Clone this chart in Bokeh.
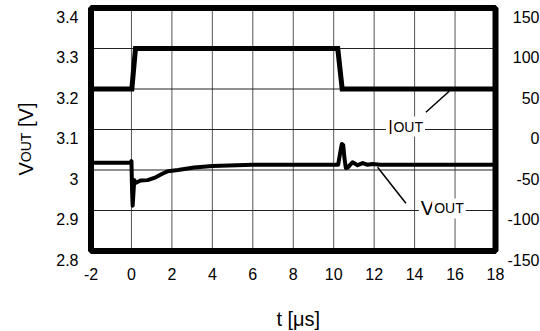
import math
from bokeh.plotting import figure
from bokeh.models import Range1d, Label, BoxAnnotation
from bokeh.embed import file_html
from bokeh.resources import INLINE

# ---- data ----
x_ticks = [-2, 0, 2, 4, 6, 8, 10, 12, 14, 16, 18]
x_tick_labels = ["-2", "0", "2", "4", "6", "8", "10", "12", "14", "16", "18"]
v_ticks = [2.8, 2.9, 3.0, 3.1, 3.2, 3.3, 3.4]
v_tick_labels = ["2.8", "2.9", "3", "3.1", "3.2", "3.3", "3.4"]
i_ticks = [-150, -100, -50, 0, 50, 100, 150]
i_tick_labels = ["-150", "-100", "-50", "0", "50", "100", "150"]

t_vout = [-2.0, -0.05, 0.0, 0.03, 0.06, 0.10, 0.14, 0.2, 0.45, 0.8, 1.2, 1.5,
          1.8, 2.3, 3.1, 4.0, 6.0, 8.0, 10.22, 10.33, 10.40, 10.47, 10.53,
          10.6, 10.7, 10.8, 10.93, 11.18, 11.43, 11.67, 11.92, 12.3, 18.0]
vout = [3.018, 3.018, 3.022, 2.95, 2.912, 2.945, 2.975, 2.968, 2.974, 2.975,
        2.982, 2.990, 2.997, 3.000, 3.006, 3.010, 3.013, 3.013, 3.013, 3.045,
        3.064, 3.062, 3.030, 3.005, 3.006, 3.012, 3.019, 3.012, 3.017, 3.013,
        3.015, 3.013, 3.013]

t_iout = [-2.0, 0.02, 0.2, 10.2, 10.42, 18.0]
iout = [50, 50, 100, 100, 50, 50]

# leader lines for the trace labels (t0, v0, t1, v1)
leader_t0 = [14.56, 12.17]
leader_v0 = [3.1427, 3.0069]
leader_t1 = [15.71, 13.57]
leader_v1 = [3.1946, 2.918]

FONT = "Liberation Sans"
W, H = 540, 331

# plot box in canvas pixels (layout only)
BOX_L, BOX_R, BOX_T, BOX_B = 90.5, 495.0, 7.5, 250.5
T0, T1 = x_ticks[0], x_ticks[-1]
V0, V1 = v_ticks[0], v_ticks[-1]
I0, I1 = i_ticks[0], i_ticks[-1]
sx = (BOX_R - BOX_L) / (T1 - T0)
sy = (BOX_B - BOX_T) / (V1 - V0)
x_start = T0 - BOX_L / sx
x_end = T1 + (W - BOX_R) / sx
y_end = V1 + BOX_T / sy
y_start = V0 - (H - BOX_B) / sy
k = (I1 - I0) / (V1 - V0)
i_start = I0 - (V0 - y_start) * k
i_end = I1 + (y_end - V1) * k

p = figure(width=W, height=H, x_range=Range1d(x_start, x_end),
           y_range=Range1d(y_start, y_end),
           output_backend="svg", toolbar_location=None, min_border=0)
p.extra_y_ranges = {"i": Range1d(i_start, i_end)}
p.background_fill_color = "white"
p.border_fill_color = "white"
p.outline_line_color = None
p.xaxis.visible = False
p.yaxis.visible = False
p.grid.visible = False

# grid lines inside the plot box
p.segment(x_ticks[1:-1], [V0] * (len(x_ticks) - 2), x_ticks[1:-1], [V1] * (len(x_ticks) - 2),
          line_color="#555555", line_width=1)
p.segment([T0] * (len(v_ticks) - 2), v_ticks[1:-1], [T1] * (len(v_ticks) - 2), v_ticks[1:-1],
          line_color="#222222", line_width=1)

p.line(t_iout, iout, y_range_name="i", line_width=5, color="black", line_join="miter")
p.line(t_vout, vout, line_width=4, color="black", line_join="round")
p.segment(leader_t0, leader_v0, leader_t1, leader_v1, line_width=1.5, color="black")

p.add_layout(BoxAnnotation(left=T0, right=T1, bottom=V0, top=V1, fill_color=None,
                           fill_alpha=0, line_color="black", line_alpha=1.0, line_width=6))

# tick labels
for t, s in zip(x_ticks, x_tick_labels):
    p.add_layout(Label(x=t, y=V0, y_offset=-22.5, text=s,
                       text_align="center", text_baseline="middle",
                       text_font=FONT, text_font_size="16px", text_color="black"))
for v, s in zip(v_ticks, v_tick_labels):
    p.add_layout(Label(x=T0, y=v, x_offset=-12.5, y_offset=-8.5, text=s,
                       text_align="right", text_baseline="middle",
                       text_font=FONT, text_font_size="16px", text_color="black"))
for v, s in zip(i_ticks, i_tick_labels):
    p.add_layout(Label(x=T1, y=v, y_range_name="i", x_offset=44, y_offset=-8.5, text=s,
                       text_align="right", text_baseline="middle",
                       text_font=FONT, text_font_size="16px", text_color="black"))

# axis titles
p.add_layout(Label(x=8, y=V0, x_offset=5, y_offset=-68, text="t [\u03bcs]",
                   text_align="center", text_baseline="alphabetic",
                   text_font=FONT, text_font_size="20px", text_color="black"))

rot = math.pi / 2
for txt, off, size in [("V", -5.5, "20px"), ("OUT", 7.8, "14px"), ("[V]", 43.0, "20px")]:
    p.add_layout(Label(x=T0, y=3.0, x_offset=-65, y_offset=off, angle=rot, text=txt,
                       text_align="left", text_baseline="alphabetic",
                       text_font=FONT, text_font_size=size, text_color="black"))

# in-plot trace labels
def trace_label(x, y, big, small):
    p.add_layout(Label(x=x, y=y, text=big, text_align="left", text_baseline="alphabetic",
                       text_font=FONT, text_font_size="20px", text_color="black",
                       background_fill_color="white", padding=2))
    wbig = 0.278 * 20 if big == "I" else 0.667 * 20
    p.add_layout(Label(x=x, y=y, x_offset=wbig, text=small, text_align="left",
                       text_baseline="alphabetic",
                       text_font=FONT, text_font_size="14px", text_color="black",
                       background_fill_color="white", padding=2))

trace_label(12.58, 3.1074, "I", "OUT")
trace_label(14.21, 2.905, "V", "OUT")

open("out.html", "w").write(file_html(p, INLINE))
